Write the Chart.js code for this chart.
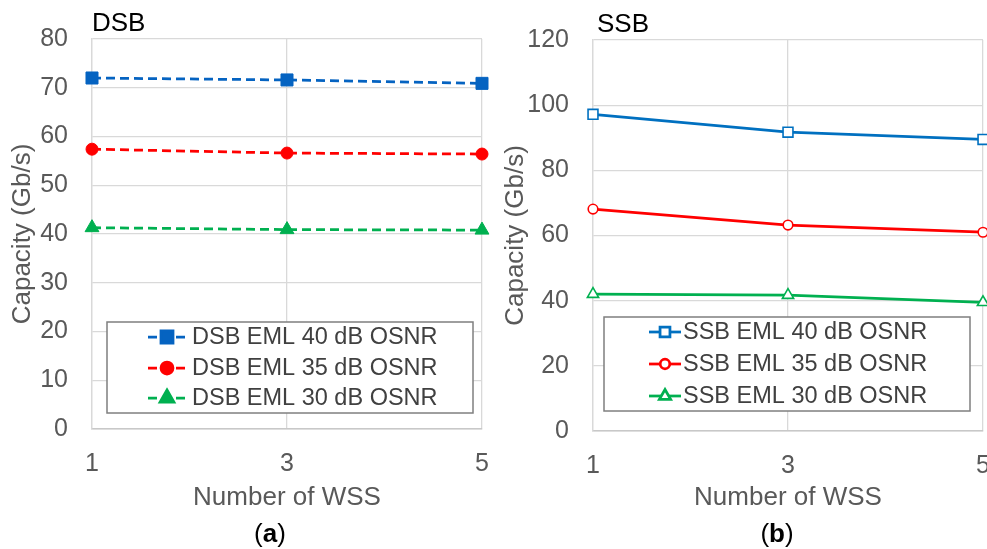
<!DOCTYPE html>
<html>
<head>
<meta charset="utf-8">
<script src="https://cdn.jsdelivr.net/npm/chart.js@4.4.1/dist/chart.umd.min.js"></script>
<style>
    body { margin: 0; background: #fff; font-family: "Liberation Sans", Arial, sans-serif; }
    .panel { position: absolute; top: 0; height: 549px; }
    .tag { position: absolute; font-size: 26px; color: #000; line-height: 1; }
    .cap { position: absolute; font-size: 26px; color: #000; line-height: 1; transform: translateX(-50%); }
</style>
</head>
<body>
<div class="panel" style="left:0;width:493px"><canvas id="dsb" width="493" height="549"></canvas></div>
<div class="panel" style="left:493px;width:494px"><canvas id="ssb" width="494" height="549"></canvas></div>
<div class="tag" style="left:92px;top:9px">DSB</div>
<div class="tag" style="left:597px;top:10px">SSB</div>
<div class="cap" style="left:270px;top:520px">(<b>a</b>)</div>
<div class="cap" style="left:777px;top:520px">(<b>b</b>)</div>
<script>
// Capacity vs number of WSS, DSB (a) and SSB (b)

const wss = [1, 3, 5];

const dsbLabels = ['DSB EML 40 dB OSNR', 'DSB EML 35 dB OSNR', 'DSB EML 30 dB OSNR'];
const dsb40 = [72.0, 71.6, 70.9];
const dsb35 = [57.4, 56.6, 56.4];
const dsb30 = [41.3, 40.9, 40.8];

const ssbLabels = ['SSB EML 40 dB OSNR', 'SSB EML 35 dB OSNR', 'SSB EML 30 dB OSNR'];
const ssb40 = [97.2, 91.7, 89.5];
const ssb35 = [68.1, 63.2, 61.0];
const ssb30 = [42.0, 41.7, 39.5];

const xTicks = [1, 3, 5];

const FONT = '"Liberation Sans", Arial, sans-serif';
const TICK_COLOR = '#595959';
const GRID_COLOR = '#D9D9D9';

function toPoints(values) {
    return values.map((v, i) => ({ x: wss[i], y: v }));
}

// legend drawn inside the plot area, with a border
const boxLegend = {
    id: 'boxLegend',
    afterDraw(chart, args, opts) {
        const ctx = chart.ctx;
        const [bx, by, bw, bh] = opts.box;
        ctx.save();
        ctx.fillStyle = '#fff';
        ctx.fillRect(bx, by, bw, bh);
        ctx.strokeStyle = '#7F7F7F';
        ctx.lineWidth = 1.5;
        ctx.strokeRect(bx, by, bw, bh);

        chart.data.datasets.forEach((ds, i) => {
            const y = opts.rows[i];
            ctx.strokeStyle = ds.borderColor;
            ctx.lineWidth = ds.borderWidth;
            ctx.setLineDash(ds.borderDash || []);
            ctx.beginPath();
            ctx.moveTo(opts.lineX[0], y);
            ctx.lineTo(opts.lineX[1], y);
            ctx.stroke();
            ctx.setLineDash([]);

            ctx.fillStyle = ds.pointBackgroundColor;
            ctx.strokeStyle = ds.pointBorderColor;
            Chart.helpers.drawPoint(ctx, {
                pointStyle: ds.pointStyle,
                radius: ds.pointRadius,
                rotation: 0,
                borderWidth: ds.pointBorderWidth
            }, opts.markX, y);

            ctx.fillStyle = '#404040';
            ctx.font = '23.5px ' + FONT;
            ctx.textBaseline = 'middle';
            ctx.textAlign = 'left';
            ctx.fillText(ds.label, opts.textX, y + 1);
        });
        ctx.restore();
    }
};

function makeDataset(label, values, color, style, radius, hollow, dashed) {
    return {
        label: label,
        data: toPoints(values),
        borderColor: color,
        borderWidth: 2.75,
        borderDash: dashed ? [9, 5] : [],
        pointStyle: style,
        pointRadius: radius,
        pointBackgroundColor: hollow ? '#fff' : color,
        pointBorderColor: color,
        pointBorderWidth: hollow ? 1.6 : 1,
        tension: 0,
        clip: false
    };
}

function makeOptions(yMax, yStep, axisWidth, axisHeight, padRight, padTop, legend) {
    return {
        responsive: false,
        animation: false,
        layout: { autoPadding: false, padding: { top: padTop, right: padRight, left: 0, bottom: 0 } },
        plugins: {
            legend: { display: false },
            tooltip: { enabled: false },
            boxLegend: legend
        },
        scales: {
            x: {
                type: 'linear',
                min: 1,
                max: 5,
                afterBuildTicks(scale) {
                    scale.ticks = xTicks.map(v => ({ value: v }));
                },
                afterFit(scale) {
                    scale.height = axisHeight;
                    scale.paddingLeft = 0;
                    scale.paddingRight = 0;
                },
                grid: { color: GRID_COLOR, lineWidth: 1.3, drawTicks: false },
                border: { color: '#C8C8C8', width: 1.5 },
                ticks: { color: TICK_COLOR, font: { family: FONT, size: 25 }, padding: 20, maxRotation: 0 },
                title: {
                    display: true,
                    text: 'Number of WSS',
                    color: TICK_COLOR,
                    font: { family: FONT, size: 26 },
                    padding: { top: 0, bottom: 36 }
                }
            },
            y: {
                min: 0,
                max: yMax,
                afterFit(scale) {
                    scale.width = axisWidth;
                },
                grid: { color: GRID_COLOR, lineWidth: 1.3, drawTicks: false },
                border: { color: GRID_COLOR, width: 1.3 },
                ticks: { stepSize: yStep, color: TICK_COLOR, font: { family: FONT, size: 25 }, padding: 24 },
                title: {
                    display: true,
                    text: 'Capacity (Gb/s)',
                    color: TICK_COLOR,
                    font: { family: FONT, size: 26 },
                    padding: { top: 7, bottom: 0 }
                }
            }
        }
    };
}

// (a) DSB
new Chart(document.getElementById('dsb'), {
    type: 'line',
    data: {
        datasets: [
            makeDataset(dsbLabels[0], dsb40, '#0563C1', 'rect', 8.5, false, true),
            makeDataset(dsbLabels[1], dsb35, '#FF0000', 'circle', 6, false, true),
            makeDataset(dsbLabels[2], dsb30, '#00B050', 'triangle', 8, false, true)
        ]
    },
    options: makeOptions(80, 10, 92, 120, 11, 38, {
        box: [107, 322, 366, 91],
        rows: [337, 368, 398],
        lineX: [148, 187],
        markX: 167,
        textX: 192
    }),
    plugins: [boxLegend]
});

// (b) SSB
new Chart(document.getElementById('ssb'), {
    type: 'line',
    data: {
        datasets: [
            makeDataset(ssbLabels[0], ssb40, '#0070C0', 'rect', 7, true, false),
            makeDataset(ssbLabels[1], ssb35, '#FF0000', 'circle', 4.8, true, false),
            makeDataset(ssbLabels[2], ssb30, '#00B050', 'triangle', 6.5, true, false)
        ]
    },
    options: makeOptions(120, 20, 100, 118, 4, 40, {
        box: [111, 317, 366, 94],
        rows: [332, 364, 396],
        lineX: [156, 188],
        markX: 172,
        textX: 190
    }),
    plugins: [boxLegend]
});
</script>
</body>
</html>
